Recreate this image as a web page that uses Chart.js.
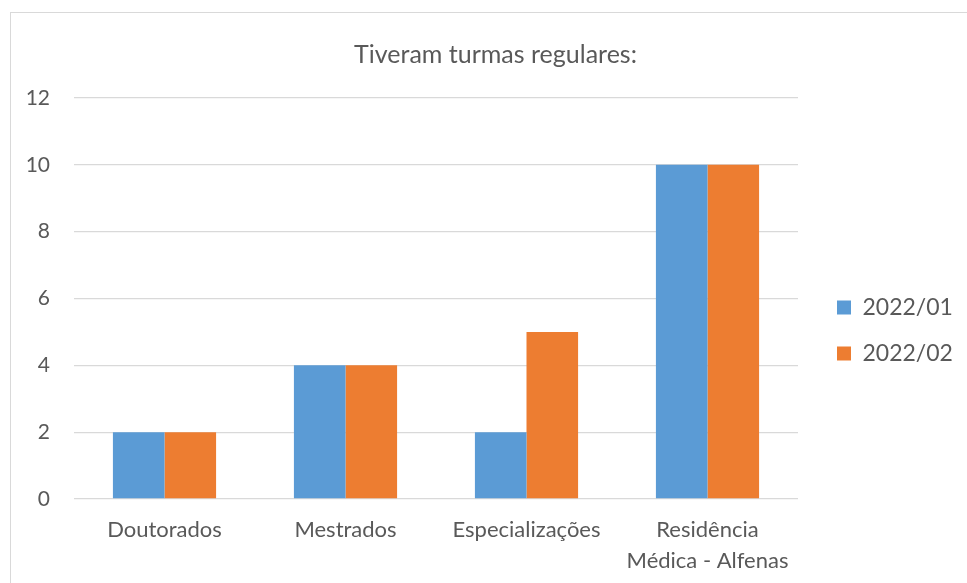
<!DOCTYPE html>
<html>
<head>
<meta charset="utf-8">
<script src="https://cdn.jsdelivr.net/npm/chart.js"></script>
<style>
html, body { margin: 0; padding: 0; overflow: hidden; background: #fff; }
#frame { position: absolute; left: 10px; top: 12px; width: 1200px; height: 1200px; border: 1px solid #d9d9d9; }
#chart { position: absolute; left: 0; top: 0; }
</style>
</head>
<body>
<div id="frame"></div>
<canvas id="chart" width="991" height="583"></canvas>
<script>
// dados
const categories = ['Doutorados', 'Mestrados', 'Especializações', ['Residência', 'Médica - Alfenas']];
const seriesNames = ['2022/01', '2022/02'];
const values2022_01 = [2, 4, 2, 10];
const values2022_02 = [2, 4, 5, 10];
const yTickValues = [0, 2, 4, 6, 8, 10, 12];

const textColor = '#595959';
const fontFamily = 'Lato, "Open Sans", sans-serif';

// legend sits a bit further from the plot than Chart.js puts it
const legendGap = 16;
const legendShiftY = 39;
const legendTweak = {
    id: 'legendTweak',
    beforeLayout(chart) {
        const lg = chart.legend;
        if (!lg || lg._tweaked) return;
        const fit = lg.fit.bind(lg);
        lg.fit = function () {
            fit();
            this.width = 991 - 798;
        };
        const draw = lg._draw.bind(lg);
        lg._draw = function () {
            this.left += legendGap;
            this.top += legendShiftY;
            this.bottom += legendShiftY;
            draw();
            this.left -= legendGap;
            this.top -= legendShiftY;
            this.bottom -= legendShiftY;
        };
        lg._tweaked = true;
    }
};

const ctx = document.getElementById('chart').getContext('2d');
const chart = new Chart(ctx, {
    type: 'bar',
    data: {
        labels: categories,
        datasets: [{
            label: seriesNames[0],
            data: values2022_01,
            backgroundColor: '#5B9BD5',
            categoryPercentage: 0.57,
            barPercentage: 1.0
        }, {
            label: seriesNames[1],
            data: values2022_02,
            backgroundColor: '#ED7D31',
            categoryPercentage: 0.57,
            barPercentage: 1.0
        }]
    },
    options: {
        responsive: false,
        animation: false,
        layout: { padding: 0 },
        plugins: {
            title: {
                display: true,
                text: 'Tiveram turmas regulares:',
                color: textColor,
                font: { family: fontFamily, size: 25, weight: 'normal', lineHeight: 1.2 },
                padding: { top: 40, bottom: 28 }
            },
            legend: {
                position: 'right',
                labels: {
                    color: textColor,
                    font: { family: fontFamily, size: 23 },
                    boxWidth: 14,
                    boxHeight: 14,
                    padding: 23
                }
            },
            tooltip: { enabled: false }
        },
        scales: {
            x: {
                grid: { display: false, drawTicks: false },
                border: { display: false },
                ticks: {
                    color: textColor,
                    font: { family: fontFamily, size: 22, lineHeight: 1.4 },
                    padding: 16,
                    maxRotation: 0,
                    autoSkip: false
                },
                afterFit(s) { s.height = 84; }
            },
            y: {
                min: 0,
                max: 12,
                afterBuildTicks(s) { s.ticks = yTickValues.map(v => ({ value: v })); },
                grid: { color: '#d9d9d9', lineWidth: 1.3, drawTicks: false },
                border: { display: false },
                ticks: {
                    color: textColor,
                    font: { family: fontFamily, size: 21 },
                    padding: 24
                },
                afterFit(s) { s.width = 74; }
            }
        }
    },
    plugins: [legendTweak]
});
</script>
</body>
</html>
